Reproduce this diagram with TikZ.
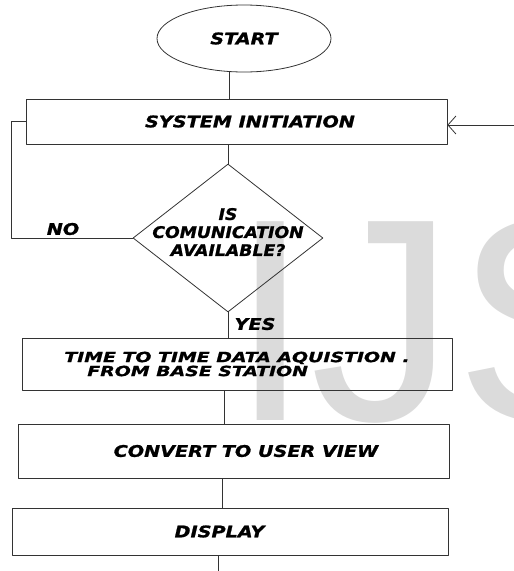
\documentclass[tikz,border=0pt]{standalone}
\usepackage{fontspec}
\usetikzlibrary{shapes.geometric,arrows.meta}
\newfontfamily\flowfont[FakeStretch=1.2,FakeBold=1.2]{DejaVu Sans}
\newfontfamily\wideflow[FakeStretch=1.35,FakeBold=1.2]{DejaVu Sans}
\newfontfamily\askflow[FakeStretch=1.08,FakeBold=1.2]{DejaVu Sans}
\newfontfamily\markfont{Liberation Sans}

\begin{document}
\begin{tikzpicture}[line cap=round,line join=round,>={Straight Barb[length=8pt,width=18pt]},x=1pt,y=-1pt,
		flow/.style={draw=black!80,line width=.8pt},
		box/.style={flow,rectangle,inner sep=0pt},
		lbl/.style={font=\flowfont\bfseries\itshape\fontsize{16}{18}\selectfont,inner sep=0pt},
		asktxt/.style={font=\askflow\bfseries\itshape\fontsize{16}{18}\selectfont,inner sep=0pt,align=center},
		widetxt/.style={font=\wideflow\bfseries\itshape\fontsize{14}{14}\selectfont,align=left}]
			\useasboundingbox (0,0) rectangle (514,571);
			%filigrane
			\begin{scope}
				\clip (0,0) rectangle (514,571);
				\node[anchor=base west,inner sep=0pt,text=black!14,font=\markfont\fontsize{289}{289}\selectfont] (filigrane) at (230,420) {IJSER};
			\end{scope}
			%noeuds
			\node[flow,ellipse,minimum width=174pt,minimum height=67pt,inner sep=0pt,lbl] (start) at (244,38.5) {START};
			\node[box,lbl,minimum width=421pt,minimum height=45pt] (sys) at (236.5,121.5) {\hspace*{27pt}SYSTEM INITIATION};
			\node[flow,diamond,minimum width=190pt,minimum height=148pt,inner sep=0pt] (ask) at (228,238) {};
			\node[asktxt] (askt) at (228,232) {IS\\COMUNICATION\\AVAILABLE?};
			\node[box,widetxt,minimum width=430pt,minimum height=52pt] (acq) at (237,364) {TIME TO TIME DATA AQUISTION .\\\hspace*{23pt}FROM BASE STATION};
			\node[box,lbl,minimum width=431pt,minimum height=54pt] (conv) at (233.5,451) {\hspace*{25pt}CONVERT TO USER VIEW};
			\node[box,lbl,minimum width=436pt,minimum height=47pt] (disp) at (230,531.5) {DISPLAY\hspace*{21pt}};
			\node[lbl] (no) at (63,229) {NO};
			\node[lbl] (yes) at (255,324) {YES};
			%liaisons
			\draw[flow] (start.247) -- (start.247 |- sys.north);
			\draw[flow] (ask.north |- sys.south) -- (ask.north);
			\draw[flow] (ask.west) -- ++(-121,0) |- (sys.west);
			\coordinate (retour) at (514,125);
			\draw[flow,->] (retour) -- (retour -| sys.east);
			\draw[flow] (ask.south) -- (ask.south |- acq.north);
			\draw[flow] ([xshift=-13pt]acq.south) -- ([xshift=-13pt]acq.south |- conv.north);
			\draw[flow] ([xshift=-11.5pt]conv.south) -- ([xshift=-11.5pt]conv.south |- disp.north);
			\coordinate (fin) at (218,571);
			\draw[flow] (fin |- disp.south) -- (fin);
\end{tikzpicture}
\end{document}
